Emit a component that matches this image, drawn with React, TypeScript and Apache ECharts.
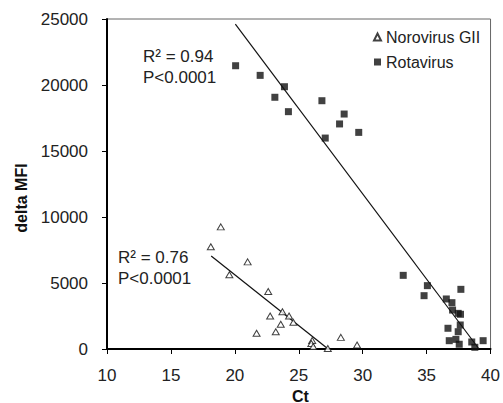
import React, { useEffect, useRef } from "react";
import * as echarts from "echarts";

const FONT = "'Liberation Sans', Arial, sans-serif";

const xTicks = { min: 10, max: 40, interval: 5 };
const yTicks = { min: 0, max: 25000, interval: 5000 };

const noroName = "Norovirus GII";
const rotaName = "Rotavirus";

const noroPoints: [number, number][] = [
  [18.9, 9250], [18.12, 7750], [21.0, 6600], [19.57, 5630], [22.61, 4350],
  [22.76, 2500], [23.72, 2820], [24.24, 2500], [24.58, 2020], [23.59, 1880],
  [23.2, 1310], [21.7, 1190], [26.05, 650], [25.98, 420], [26.13, 180],
  [27.27, 40], [28.29, 880], [29.56, 300],
];

const rotaPoints: [number, number][] = [
  [20.06, 21460], [21.98, 20730], [23.13, 19070], [23.88, 19870], [24.19, 17980],
  [26.81, 18810], [27.07, 15980], [28.19, 17050], [28.55, 17800], [29.69, 16410],
  [33.17, 5580], [35.06, 4800], [34.8, 4040], [37.68, 4520], [36.54, 3790],
  [36.98, 3510], [37.03, 2950], [37.47, 2700], [37.65, 2630], [37.63, 1820],
  [36.67, 1570], [37.47, 1310], [36.77, 630], [37.29, 730], [37.55, 360],
  [38.53, 530], [38.77, 130], [39.42, 630],
];

const noroFit: [number, number][] = [[18.15, 7050], [27.3, 0]];
const rotaFit: [number, number][] = [[20.04, 24620], [39.1, 0]];

const annotations = [
  { lines: ["R\u00b2 = 0.94", "P<0.0001"], x: 143, y: 48 },
  { lines: ["R\u00b2 = 0.76", "P<0.0001"], x: 118, y: 249 },
];

export default function App() {
  const ref = useRef<HTMLDivElement>(null);
  useEffect(() => {
    if (!ref.current) return;
    const chart = echarts.init(ref.current, null, { renderer: "svg" });
    const graphics: any[] = [];
    annotations.forEach((a) => {
      a.lines.forEach((t, i) => {
        graphics.push({
          type: "text",
          left: a.x,
          top: a.y + i * 21,
          style: { text: t, font: `17px ${FONT}`, fill: "#222" },
        });
      });
    });
    graphics.push({
      type: "text",
      left: 303 - 11,
      top: 388,
      style: { text: "Ct", font: `bold 16px ${FONT}`, fill: "#111" },
    });
    graphics.push({
      type: "text",
      x: 21,
      y: 198,
      rotation: Math.PI / 2,
      style: {
        text: "delta MFI",
        font: `bold 16px ${FONT}`,
        fill: "#111",
        align: "center",
        verticalAlign: "middle",
      },
    });
    chart.setOption({
      animation: false,
      backgroundColor: "#fff",
      textStyle: { fontFamily: FONT },
      grid: {
        left: 107,
        right: 11,
        top: 19,
        bottom: 54,
        show: true,
        borderColor: "#666",
        borderWidth: 1,
        backgroundColor: "transparent",
      },
      legend: {
        orient: "vertical",
        left: 368,
        top: 24,
        itemWidth: 7,
        itemHeight: 7,
        itemGap: 9,
        data: [
          { name: noroName, icon: "triangle" },
          { name: rotaName, icon: "rect" },
        ],
        textStyle: { fontSize: 16, color: "#222", fontFamily: FONT },
      },
      xAxis: {
        type: "value",
        min: xTicks.min,
        max: xTicks.max,
        interval: xTicks.interval,
        splitLine: { show: false },
        axisLine: { show: true, onZero: false, lineStyle: { color: "#000", width: 2 } },
        axisTick: { show: true, inside: false, length: 5, lineStyle: { color: "#000", width: 1 } },
        axisLabel: { fontSize: 17, color: "#222", margin: 18, fontFamily: FONT, formatter: (v: number) => String(v) },
      },
      yAxis: {
        type: "value",
        min: yTicks.min,
        max: yTicks.max,
        interval: yTicks.interval,
        splitLine: { show: false },
        axisLine: { show: true, onZero: false, lineStyle: { color: "#000", width: 2 } },
        axisTick: { show: true, inside: false, length: 5, lineStyle: { color: "#000", width: 1 } },
        axisLabel: { fontSize: 17, color: "#222", margin: 19, fontFamily: FONT, formatter: (v: number) => String(v) },
      },
      series: [
        {
          name: noroName,
          type: "scatter",
          symbol: "triangle",
          symbolSize: [7, 6],
          data: noroPoints,
          itemStyle: { color: "#fff", borderColor: "#111", borderWidth: 1 },
          z: 3,
        },
        {
          name: rotaName,
          type: "scatter",
          symbol: "rect",
          symbolSize: 7,
          data: rotaPoints,
          itemStyle: { color: "#111" },
          z: 3,
        },
        {
          name: "noroFit",
          type: "line",
          data: noroFit,
          symbol: "none",
          lineStyle: { color: "#111", width: 1.2 },
          z: 2,
        },
        {
          name: "rotaFit",
          type: "line",
          data: rotaFit,
          symbol: "none",
          lineStyle: { color: "#111", width: 1.2 },
          z: 2,
        },
      ],
      graphic: graphics,
    });
    return () => chart.dispose();
  }, []);
  return <div ref={ref} style={{ width: 503, height: 403, position: "absolute", left: 0, top: 0 }} />;
}
